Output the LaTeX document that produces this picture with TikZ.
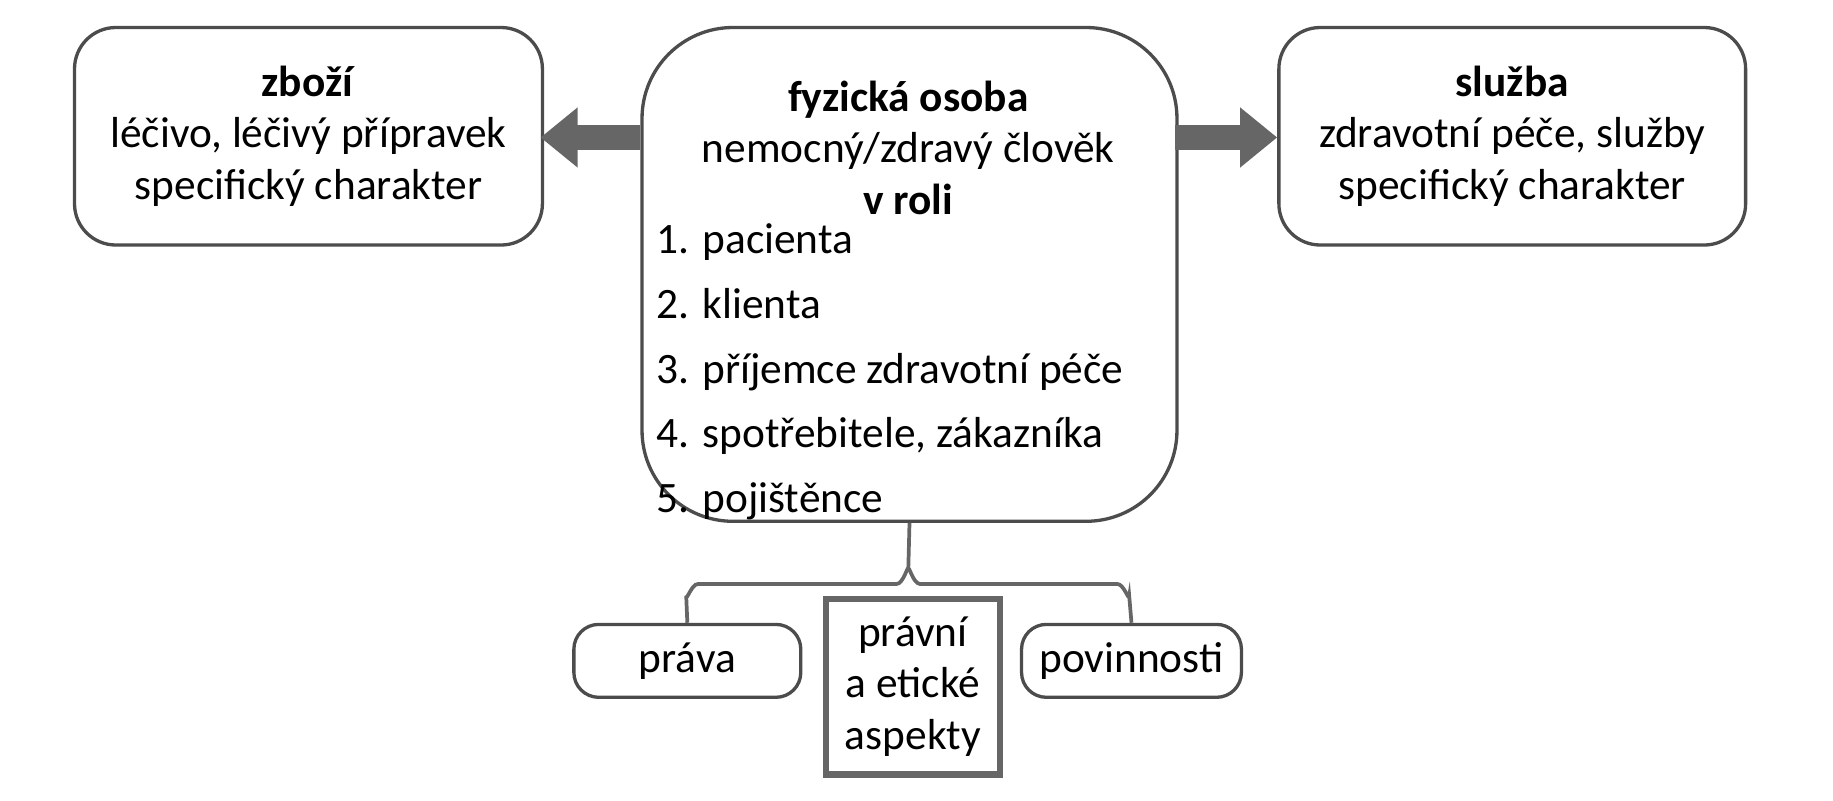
\documentclass[tikz,border=0pt]{standalone}
\usepackage{fontspec}
\setmainfont{Carlito}
\usetikzlibrary{positioning,arrows.meta}
\tikzset{
  box/.style={draw=black!70, line width=0.8pt, rounded corners=10pt, fill=white},
  txt/.style={font=\fontsize{10.5}{12.5}\selectfont, align=center, inner sep=0pt},
  fat/.style={line width=6pt, draw=black!60, -{Triangle[length=9pt,width=14pt]}},
}
\begin{document}
\begin{tikzpicture}[x=0.01cm,y=-0.01cm]
    \useasboundingbox (0,0) rectangle (1560,681);
    % upper boxes
    \node[box, anchor=north west, minimum width=3.98cm, minimum height=1.85cm] (zbozi) at (62,22) {};
    \node[box, rounded corners=22pt, anchor=north west, minimum width=4.55cm, minimum height=4.2cm] (osoba) at (545,22) {};
    \node[box, anchor=north west, minimum width=3.97cm, minimum height=1.85cm] (sluzba) at (1087,22) {};
    \node[txt] (zbozit) at (zbozi.center) {\textbf{zboží}\\léčivo, léčivý přípravek\\specifický charakter};
    \node[txt] (sluzbat) at (sluzba.center) {\textbf{služba}\\zdravotní péče, služby\\specifický charakter};
    \node[txt, anchor=north] (osobat) at (773,68) {\textbf{fyzická osoba}\\nemocný/zdravý člověk\\\textbf{v roli}};
    \node[txt, align=left, anchor=north west] (role) at (558,190)
      {1. pacienta\\[1.1mm]2. klienta\\[1.1mm]3. příjemce zdravotní péče\\[1.1mm]4. spotřebitele, zákazníka\\[1.1mm]5. pojištěnce};
    % arrows
    \coordinate (la) at (545,117);
    \coordinate (lb) at (460,117);
    \coordinate (ra) at (1000,117);
    \coordinate (rb) at (1087,117);
    \draw[fat] (la) -- (lb);
    \draw[fat] (ra) -- (rb);
    % lower boxes
    \node[box, rounded corners=6pt, anchor=north west, minimum width=1.93cm, minimum height=0.62cm, txt] (prava) at (487,530) {práva};
    \node[draw=black!60, line width=1.6pt, anchor=north west, minimum width=1.48cm, minimum height=1.49cm, txt] (aspekty) at (700,507) {právní\\a etické\\aspekty};
    \node[box, rounded corners=6pt, anchor=north west, minimum width=1.87cm, minimum height=0.62cm, txt] (povin) at (868,530) {povinnosti};
    % brace
    \draw[black!60, line width=0.9pt] (osoba.south) -- (773,485) to[out=90,in=0] (763,497) -- (594,497) to[out=180,in=-90] (584,507) -- (prava.north);
    \draw[black!60, line width=0.9pt] (773,485) to[out=90,in=180] (783,497) -- (951,497) to[out=0,in=-90] (961,507) -- (povin.north);
\end{tikzpicture}
\end{document}
